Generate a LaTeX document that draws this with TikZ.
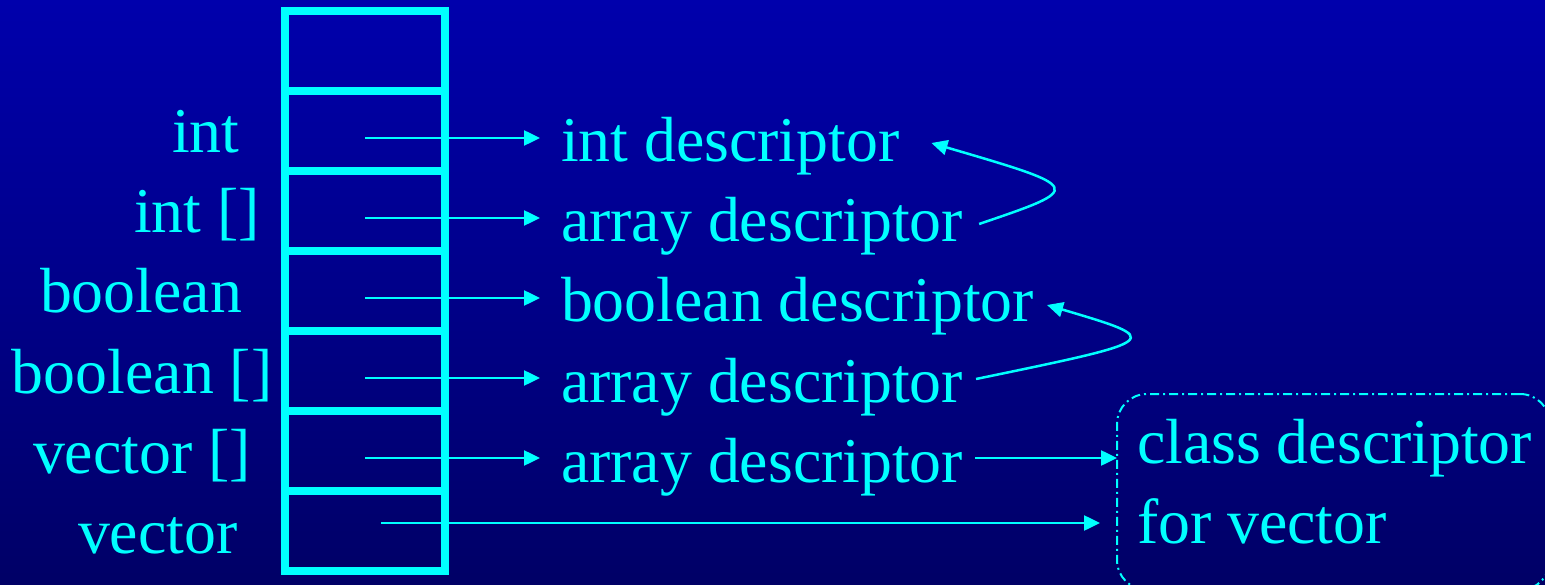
\documentclass[tikz,border=0pt]{standalone}
\usepackage{fontspec}
\setmainfont{Liberation Serif}
\usetikzlibrary{arrows.meta,calc}
\definecolor{fg}{RGB}{0,255,255}
\definecolor{bgtop}{RGB}{0,0,172}
\definecolor{bgbot}{RGB}{0,0,102}
\begin{document}
\begin{tikzpicture}[x=1pt,y=-1pt,
  every node/.style={text=fg, font=\fontsize{63.8}{76}\selectfont, inner sep=0pt, outer sep=0pt},
  cell/.style={draw=fg, line width=8pt, minimum width=160pt, minimum height=80pt},
  lbl/.style={anchor=base west},
  desc/.style={anchor=base west},
  ptr/.style={draw=fg, line width=2.5pt, -{Triangle[length=16pt,width=15pt]}},
  classbox/.style={draw=fg, line width=2pt, rounded corners=30pt,
    dash pattern=on 9pt off 4pt on 2pt off 4pt, anchor=north west,
    minimum width=433pt, minimum height=196pt}]
\shade[top color=bgtop, bottom color=bgbot] (0,0) rectangle (1545,585);
\useasboundingbox (0,0) rectangle (1545,585);
% stack of cells
\foreach \i in {0,...,6} \node[cell] (c\i) at (365,{51+80*\i}) {};
% type labels
\node[lbl] (l1) at (172,153) {int};
\node[lbl] (l2) at (134,233) {int []};
\node[lbl] (l3) at (40,313) {boolean};
\node[lbl] (l4) at (12,393) {boolean []};
\node[lbl] (l5) at (33,473) {vector []};
\node[lbl] (l6) at (78,553) {vector};
% descriptors
\node[desc] (d1) at (561,162) {int descriptor};
\node[desc] (d2) at (561,242) {array descriptor};
\node[desc] (d3) at (561,322) {boolean descriptor};
\node[desc] (d4) at (561,402) {array descriptor};
\node[desc] (d5) at (561,482) {array descriptor};
% class descriptor box
\node[classbox] (box) at (1117,394) {};
\node[desc] (k1) at (1137,463) {class descriptor};
\node[desc] (k2) at (1137,543) {for vector};
% pointer starts
\foreach \i in {1,...,5} \coordinate (s\i) at ($(c\i.center)+(0,7)$);
\coordinate (s6) at ($(c6.center)+(16,-8)$);
% pointers
\foreach \i in {1,...,5} \draw[ptr, shorten >=21pt] (s\i) -- (s\i -| d\i.west);
\draw[ptr] ($(d5.east |- s5)+(12,0)$) -- (s5 -| box.west);
\draw[ptr, shorten >=17pt] (s6) -- (s6 -| box.west);
% element-type links
\draw[ptr] ($(d2.base east)+(16,-18)$) .. controls (1085,188) .. ($(d1.base east)+(32,-19)$);
\draw[ptr] ($(d4.base east)+(13,-23)$) .. controls (1165,340) .. ($(d3.base east)+(13,-17)$);
\end{tikzpicture}
\end{document}
